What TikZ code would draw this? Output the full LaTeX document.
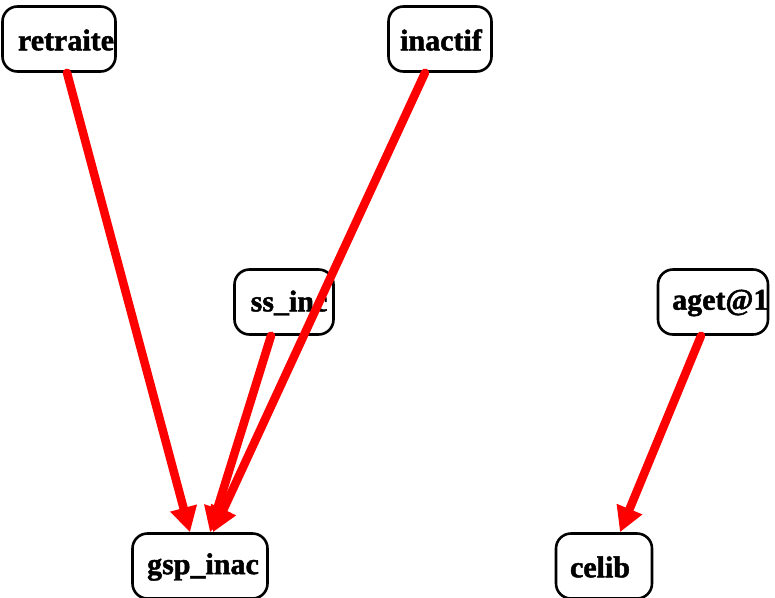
\documentclass[tikz,border=0pt]{standalone}
\usepackage{fontspec}
\setmainfont{Liberation Serif}[BoldFeatures={FakeBold=1.6}]
\usetikzlibrary{arrows.meta}
\begin{document}
\begin{tikzpicture}[x=1pt,y=-1pt,
  box/.style={draw=black, line width=2.6pt, rounded corners=15pt, minimum height=65pt, inner sep=0pt},
  txt/.style={inner sep=0pt, font=\fontsize{30}{32}\selectfont\bfseries},
  edge/.style={draw=red, line width=8.5pt, line cap=round, -{Triangle[length=25pt,width=26pt]}}]
\useasboundingbox (0,0) rectangle (775,597);
% boxes
\node[box, minimum width=113pt] (retraite) at (59,39) {};
\node[box, minimum width=103pt] (inactif) at (440,39) {};
\node[box, minimum width=99pt] (ssinc) at (284,302) {};
\node[box, minimum width=110pt] (aget) at (713,302) {};
\node[box, minimum width=135pt] (gsp) at (200,566) {};
\node[box, minimum width=96pt] (celib) at (604,566) {};
% texts
\node[txt] (retraite-t) at (66,40) {retraite};
\node[txt] (inactif-t) at (441,40) {inactif};
\node[txt] (ssinc-t) at (289,303) {ss\_inc};
\node[txt, anchor=west] (aget-t) at (672,303) {aget@1};
\node[txt] (gsp-t) at (203,567) {gsp\_inac};
\node[txt] (celib-t) at (600,567) {celib};
% edges
\draw[edge] ([xshift=8pt]retraite.south) -- ([xshift=-10pt]gsp.north);
\draw[edge] ([xshift=-15pt]inactif.south) -- ([xshift=13pt]gsp.north);
\draw[edge] ([xshift=-13pt]ssinc.south) -- ([xshift=10pt]gsp.north);
\draw[edge] ([xshift=-12pt]aget.south) -- ([xshift=16pt]celib.north);
\end{tikzpicture}
\end{document}
